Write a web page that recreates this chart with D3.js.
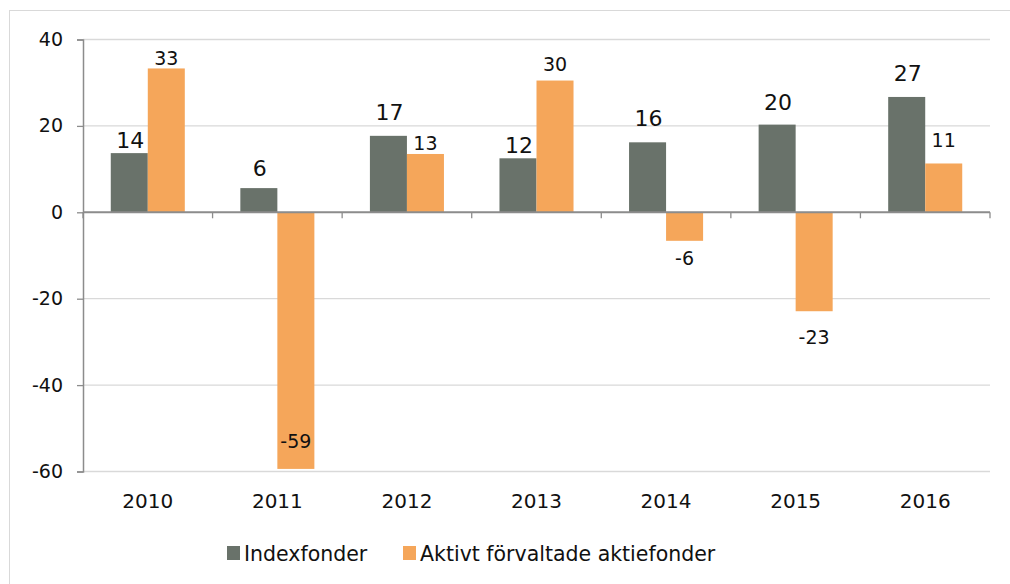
<!DOCTYPE html>
<html>
<head>
<meta charset="utf-8">
<script src="https://cdn.jsdelivr.net/npm/d3@7"></script>
<style>
body { margin: 0; background: #fff; }
text { font-family: "DejaVu Sans", Verdana, sans-serif; fill: #111; }
</style>
</head>
<body>
<script>
var years = ["2010", "2011", "2012", "2013", "2014", "2015", "2016"];
var seriesNames = ["Indexfonder", "Aktivt förvaltade aktiefonder"];
var indexVals = [13.7, 5.6, 17.7, 12.5, 16.2, 20.3, 26.7];
var activeVals = [33.3, -59.4, 13.5, 30.5, -6.6, -22.9, 11.3];
var indexLabels = ["14", "6", "17", "12", "16", "20", "27"];
var activeLabels = ["33", "-59", "13", "30", "-6", "-23", "11"];
var yTicks = [40, 20, 0, -20, -40, -60];
// label nudges (px away from bar end, negative = inside)
var indexNudge = [5, 12, 16, 5, 16, 15, 16];
var activeNudge = [3, -21, 4, 10, 24, 33, 16];
var colors = ["#69726a", "#f5a65a"];

var W = 1010, H = 584;
var plotL = 83, plotR = 990, plotT = 39.5, plotB = 471.5;

var svg = d3.select("body").append("svg").attr("width", W).attr("height", H);

svg.append("rect")
	.attr("x", 9.5).attr("y", 10.5)
	.attr("width", W).attr("height", H)
	.attr("fill", "none").attr("stroke", "#d9d9d9");

var y = d3.scaleLinear().domain([-60, 40]).range([plotB, plotT]);
var x = d3.scaleBand().domain(years).range([plotL, plotR]).padding(0);
var bw = x.bandwidth();
var x1 = d3.scaleBand().domain([0, 1]).range([bw * 0.2143, bw * 0.7857]);

// grid
svg.append("g").selectAll("line").data(yTicks).join("line")
	.attr("x1", plotL).attr("x2", plotR)
	.attr("y1", d => y(d)).attr("y2", d => y(d))
	.attr("stroke", "#d9d9d9").attr("stroke-width", 1.3);

// y axis
var yAxis = svg.append("g").attr("transform", "translate(" + plotL + ",0)")
	.call(d3.axisLeft(y).tickValues(yTicks).tickFormat(d => String(d)).tickSize(6).tickPadding(14));
yAxis.select(".domain").attr("stroke", "#8c8c8c").attr("stroke-width", 1.5);
yAxis.selectAll(".tick line").attr("stroke", "#8c8c8c").attr("stroke-width", 1.3);
yAxis.selectAll("text").attr("font-size", "19px").attr("fill", "#111")
	.attr("font-family", "DejaVu Sans, Verdana, sans-serif");

var rows = years.map((yr, i) => ({year: yr, i: i, vals: [indexVals[i], activeVals[i]]}));

var groups = svg.append("g").selectAll("g").data(rows).join("g")
	.attr("transform", d => "translate(" + x(d.year) + ",0)");

groups.selectAll("rect").data(d => d.vals.map((v, k) => ({k: k, v: v}))).join("rect")
	.attr("x", d => x1(d.k))
	.attr("width", x1.bandwidth())
	.attr("y", d => y(Math.max(0, d.v)))
	.attr("height", d => Math.abs(y(d.v) - y(0)))
	.attr("fill", d => colors[d.k]);

// zero line with category ticks
svg.append("line")
	.attr("x1", plotL).attr("x2", plotR)
	.attr("y1", y(0)).attr("y2", y(0))
	.attr("stroke", "#8c8c8c").attr("stroke-width", 2);
var bounds = years.map(d => x(d)).concat([plotR]);
svg.append("g").selectAll("line").data(bounds).join("line")
	.attr("x1", d => d).attr("x2", d => d)
	.attr("y1", y(0)).attr("y2", y(0) + 6)
	.attr("stroke", "#8c8c8c").attr("stroke-width", 1.3);

// value labels
groups.append("text")
	.attr("text-anchor", "middle")
	.attr("font-size", "22px")
	.attr("x", x1(0) + x1.bandwidth() / 2 + 1)
	.attr("y", d => y(d.vals[0]) - indexNudge[d.i])
	.text(d => indexLabels[d.i]);

groups.append("text")
	.attr("text-anchor", "middle")
	.attr("font-size", "19px")
	.attr("x", x1(1) + x1.bandwidth() / 2)
	.attr("y", d => {
		var v = d.vals[1];
		if (v >= 0) return y(v) - activeNudge[d.i];
		return y(v) + activeNudge[d.i];
	})
	.text(d => activeLabels[d.i]);

// year labels
var xAxis = svg.append("g").attr("transform", "translate(0," + plotB + ")")
	.call(d3.axisBottom(x).tickSize(0).tickPadding(22));
xAxis.select(".domain").remove();
xAxis.selectAll("text").attr("font-size", "20px").attr("fill", "#111")
	.attr("font-family", "DejaVu Sans, Verdana, sans-serif");

// legend
var legX = [227, 403];
var leg = svg.append("g").selectAll("g").data(seriesNames).join("g")
	.attr("transform", (d, i) => "translate(" + legX[i] + ",546)");
leg.append("rect").attr("width", 13).attr("height", 14).attr("fill", (d, i) => colors[i]);
leg.append("text").attr("x", 17).attr("y", 15).attr("font-size", "20.5px").text(d => d);
</script>
</body>
</html>
